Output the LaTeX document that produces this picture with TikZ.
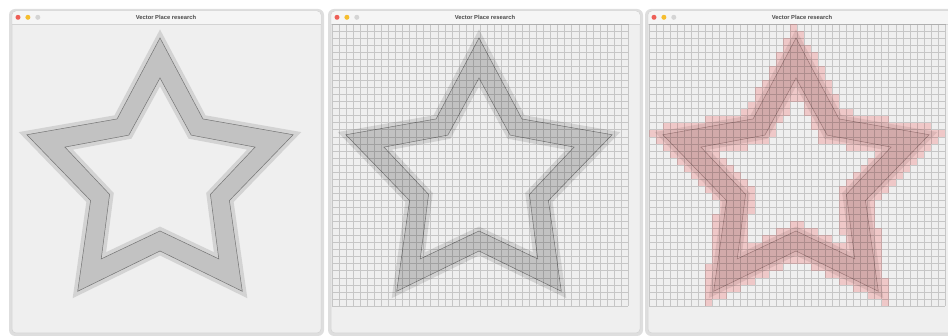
\documentclass[tikz,border=0pt]{standalone}
\usepackage{fontspec}
\setmainfont{Liberation Sans}
\usepackage{xcolor}
\definecolor{WinGray}{HTML}{EFEFEF}
\definecolor{BarGray}{HTML}{F5F5F5}
\definecolor{EdgeGray}{HTML}{D3D3D3}
\definecolor{BandLight}{HTML}{D3D3D3}
\definecolor{BandDark}{HTML}{C2C2C2}
\definecolor{LineGray}{HTML}{747474}
\definecolor{CloseRed}{HTML}{EE5F57}
\definecolor{MinYellow}{HTML}{F5BD2E}
\definecolor{ZoomGray}{HTML}{D4D4D4}
\definecolor{CellPink}{HTML}{F08080}
\definecolor{TitleInk}{HTML}{4A4A4A}
\usepackage{tikz}
\usetikzlibrary{positioning}
\newcommand\starline[2]{(-90:#1) -- (-54:#2) -- (-18:#1) -- (18:#2) -- (54:#1) -- (90:#2) -- (126:#1) -- (162:#2) -- (198:#1) -- (234:#2) -- cycle}

\begin{document}
\begin{tikzpicture}[x=1pt,y=-1pt,
  win/.style={fill=WinGray,draw=EdgeGray,line width=0.5pt,rounded corners=4pt},
  shade/.style={fill=black,opacity=0.13,rounded corners=6pt},
  title/.style={font=\fontsize{5.8}{6}\selectfont\bfseries,text=TitleInk,inner sep=0pt},
  lamp/.style={circle,minimum size=5pt,inner sep=0pt},
  glow/.style={draw=BandLight,line width=8pt,line join=miter,miter limit=10},
  band/.style={fill=BandDark,even odd rule},
  rim/.style={draw=LineGray,line width=0.5pt},
  gridline/.style={draw=black,opacity=0.17,line width=0.5pt},
  pinkcell/.style={fill=CellPink,opacity=0.35}]
\fill[white] (0,0) rectangle (948,336);
\useasboundingbox (0,0) rectangle (948,336);
\foreach \wl/\n in {12/1,331/2,648/3}{
\begin{scope}[shift={(\wl,0)}]
\fill[shade] (-3,9) rectangle (312,336);
\path[win] (0,11) rectangle (309,333);
\fill[BarGray] (0.25,24) [rounded corners=4pt] -- (0.25,11.25) -- (308.75,11.25) [sharp corners] -- (308.75,24) -- cycle;
\draw[EdgeGray,line width=0.4pt] (0.25,24) -- (308.75,24);
\node[title] (title\n) at (154,17.3) {Vector Place research};
\node[lamp,fill=CloseRed] (close\n) at (6,17.3) {};
\node[lamp,fill=MinYellow,right=4.5pt of close\n] (min\n) {};
\node[lamp,fill=ZoomGray,right=4.5pt of min\n] (zoom\n) {};
\begin{scope}[shift={(148,178)}]
\draw[glow] \starline{140}{73} \starline{100}{53};
\fill[band] \starline{140}{73} \starline{100}{53};
\draw[rim] \starline{140}{73} \starline{100}{53};
\end{scope}
\begin{scope}[shift={(1,24)}]
\ifnum\n=3
\foreach \i in {0,...,41}{\foreach \j in {0,...,39}{
\pgfmathsetmacro\cx{(\i+0.5)*7.05-147}
\pgfmathsetmacro\cy{154-(\j+0.5)*7.05}
\pgfmathsetmacro\dist{veclen(\cx,\cy)}
\pgfmathsetmacro\ang{Mod(atan2(\cy,\cx)-90,72)}
\pgfmathsetmacro\ang{\ang>36 ? 72-\ang : \ang}
\pgfmathsetmacro\px{\dist*cos(\ang)}
\pgfmathsetmacro\py{\dist*sin(\ang)}
\pgfmathsetmacro\so{(\px-140)*0.46839+\py*0.88355}
\pgfmathsetmacro\si{(\px-100)*0.47880+\py*0.87793}
\pgfmathtruncatemacro\hit{(\so<=8.5)&&(\si>=-8.5)}
\ifnum\hit=1 \fill[pinkcell] (\i*7.05,\j*7.05) rectangle ++(7.05,7.05);\fi
}}
\fi
\ifnum\n>1
\draw[gridline] \foreach \k in {0,...,42}{(\k*7.05,0) -- (\k*7.05,282)} \foreach \k in {0,...,40}{(0,\k*7.05) -- (296.1,\k*7.05)};
\fi
\end{scope}
\end{scope}
}
\end{tikzpicture}
\end{document}
